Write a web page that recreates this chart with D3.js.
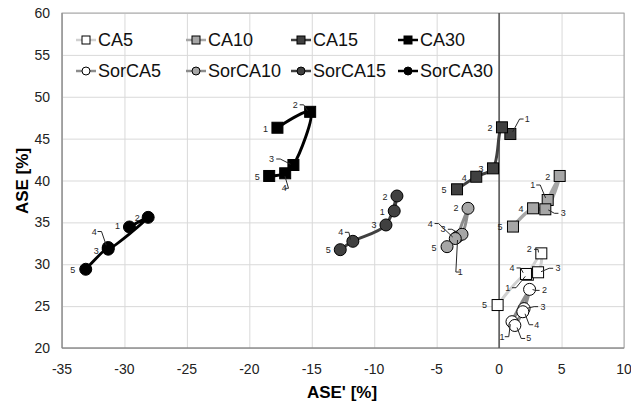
<!DOCTYPE html>
<html>
<head>
<meta charset="utf-8">
<script src="https://cdn.jsdelivr.net/npm/d3@7"></script>
<style>
  body { margin: 0; background: #fff; }
  svg { font-family: "Liberation Sans", Arial, sans-serif; }
</style>
</head>
<body>
<svg id="chart" width="631" height="406"></svg>
<script>
// series names, legend order
const seriesNames = ["CA5", "CA10", "CA15", "CA30", "SorCA5", "SorCA10", "SorCA15", "SorCA30"];
const pointLabels = ["1", "2", "3", "4", "5"];

// ASE' [%] (x) and ASE [%] (y), points 1..5
const ca5X = [2.3, 3.38, 3.12, 2.15, -0.12];
const ca5Y = [28.75, 31.3, 29.04, 28.84, 25.13];
const ca10X = [3.89, 4.85, 3.7, 2.72, 1.11];
const ca10Y = [37.67, 40.54, 36.56, 36.68, 34.5];
const ca15X = [0.9, 0.23, -0.49, -1.83, -3.37];
const ca15Y = [45.55, 46.35, 41.45, 40.45, 38.95];
const ca30X = [-17.75, -15.13, -16.47, -17.13, -18.41];
const ca30Y = [46.3, 48.2, 41.85, 40.86, 40.54];
const sorCa5X = [1.03, 2.44, 2.0, 1.9, 1.26];
const sorCa5Y = [23.14, 27.0, 24.7, 24.33, 22.69];
const sorCa10X = [-3.35, -2.49, -2.97, -3.51, -4.17];
const sorCa10Y = [33.25, 36.68, 33.58, 33.07, 32.1];
const sorCa15X = [-8.4, -8.18, -9.06, -11.71, -12.72];
const sorCa15Y = [36.36, 38.15, 34.69, 32.74, 31.74];
const sorCa30X = [-29.6, -28.1, -31.3, -31.3, -33.1];
const sorCa30Y = [34.45, 35.6, 31.8, 32.0, 29.4];

const xTicks = [-35, -30, -25, -20, -15, -10, -5, 0, 5, 10];
const yTicks = [20, 25, 30, 35, 40, 45, 50, 55, 60];

// look of each series
const styles = {
  CA5:     {shape: "square", fill: "#ffffff", line: "#d0d0d0", lw: 3},
  CA10:    {shape: "square", fill: "#a6a6a6", line: "#a6a6a6", lw: 3.5},
  CA15:    {shape: "square", fill: "#404040", line: "#404040", lw: 3},
  CA30:    {shape: "square", fill: "#000000", line: "#000000", lw: 3},
  SorCA5:  {shape: "circle", fill: "#ffffff", line: "#8c8c8c", lw: 3.5},
  SorCA10: {shape: "circle", fill: "#a6a6a6", line: "#8c8c8c", lw: 3},
  SorCA15: {shape: "circle", fill: "#404040", line: "#404040", lw: 3},
  SorCA30: {shape: "circle", fill: "#000000", line: "#000000", lw: 3}
};

// data label offsets in px [dx, dy, leader?]
const labelPos = {
  CA5:     [[-20, 13, 1], [-12, -4, 1], [20, -4, 1], [-14, -6, 1], [-13, 0, 0]],
  CA10:    [[-15, -15, 1], [-12, 1, 0], [18, 4, 1], [-12, 1, 0], [-13, 0, 0]],
  CA15:    [[17, -15, 1], [-12, 1, 0], [-12, 1, 0], [-12, 1, 0], [-13, 1, 0]],
  CA30:    [[-12, 1, 0], [-15, -7, 1], [-22, -6, 1], [-1, 15, 1], [-12, 1, 0]],
  SorCA5:  [[-10, 15, 1], [15, 1, 1], [19, -2, 1], [14, 13, 1], [14, 13, 1]],
  SorCA10: [[3, 35, 1], [-12, 0, 0], [-19, -5, 1], [-25, -15, 1], [-13, 1, 0]],
  SorCA15: [[-12, 1, 0], [-12, 1, 0], [-12, 0, 0], [-12, -9, 1], [-12, 0, 0]],
  SorCA30: [[-12, -1, 0], [-11, 1, 0], [-12, 2, 0], [-14, -16, 1], [-13, 1, 0]]
};

const xs = [ca5X, ca10X, ca15X, ca30X, sorCa5X, sorCa10X, sorCa15X, sorCa30X];
const ys = [ca5Y, ca10Y, ca15Y, ca30Y, sorCa5Y, sorCa10Y, sorCa15Y, sorCa30Y];
const series = seriesNames.map((name, i) => ({
  name: name,
  points: pointLabels.map((lab, j) => ({label: lab, x: xs[i][j], y: ys[i][j]}))
}));

const svg = d3.select("#chart");
const plotL = 62, plotR = 624, plotT = 13, plotB = 348;

const x = d3.scaleLinear().domain([-35, 10]).range([plotL, plotR]);
const y = d3.scaleLinear().domain([20, 60]).range([plotB, plotT]);

// gridlines
svg.append("g")
  .attr("transform", `translate(0,${plotB})`)
  .call(d3.axisBottom(x).tickValues(xTicks).tickSize(-(plotB - plotT)).tickFormat(""))
  .call(g => g.select(".domain").remove())
  .call(g => g.selectAll("line").attr("stroke", "#d9d9d9"));
svg.append("g")
  .attr("transform", `translate(${plotL},0)`)
  .call(d3.axisLeft(y).tickValues(yTicks).tickSize(-(plotR - plotL)).tickFormat(""))
  .call(g => g.select(".domain").remove())
  .call(g => g.selectAll("line").attr("stroke", "#d9d9d9"));

// plot border
svg.append("rect")
  .attr("x", plotL).attr("y", plotT)
  .attr("width", plotR - plotL).attr("height", plotB - plotT)
  .attr("fill", "none").attr("stroke", "#a6a6a6").attr("stroke-width", 1);
svg.append("line")
  .attr("x1", plotL).attr("x2", plotL).attr("y1", plotT).attr("y2", plotB)
  .attr("stroke", "#808080");
svg.append("line")
  .attr("x1", plotL).attr("x2", plotR).attr("y1", plotB).attr("y2", plotB)
  .attr("stroke", "#808080");

// x = 0 reference line
svg.append("line")
  .attr("x1", x(0)).attr("x2", x(0)).attr("y1", plotT).attr("y2", plotB)
  .attr("stroke", "#595959").attr("stroke-width", 1.6);

// tick labels
svg.append("g").selectAll("text")
  .data(xTicks).enter().append("text")
  .attr("x", d => x(d)).attr("y", 374)
  .attr("text-anchor", "middle")
  .attr("font-size", 14).attr("fill", "#222")
  .text(d => d);
svg.append("g").selectAll("text")
  .data(yTicks).enter().append("text")
  .attr("x", 50).attr("y", d => y(d) + 5)
  .attr("text-anchor", "end")
  .attr("font-size", 14).attr("fill", "#222")
  .text(d => d);

// axis titles
svg.append("text")
  .attr("x", 342).attr("y", 398)
  .attr("text-anchor", "middle")
  .attr("font-size", 17).attr("font-weight", "bold")
  .text("ASE' [%]");
svg.append("text")
  .attr("transform", "translate(28,181) rotate(-90)")
  .attr("text-anchor", "middle")
  .attr("font-size", 17).attr("font-weight", "bold")
  .text("ASE [%]");

function drawMarker(g, shape, cx, cy, size, fill) {
  if (shape === "square") {
    g.append("rect")
      .attr("x", cx - size / 2).attr("y", cy - size / 2)
      .attr("width", size).attr("height", size)
      .attr("fill", fill).attr("stroke", "#000").attr("stroke-width", 1);
  } else {
    g.append("circle")
      .attr("cx", cx).attr("cy", cy).attr("r", size / 2)
      .attr("fill", fill).attr("stroke", "#000").attr("stroke-width", 1);
  }
}

const lineGen = d3.line()
  .x(d => x(d.x)).y(d => y(d.y))
  .curve(d3.curveCatmullRom.alpha(0.5));

let plot = svg.append("g");

series.forEach(s => {
  let st = styles[s.name];
  let g = plot.append("g");
  g.append("path")
    .datum(s.points)
    .attr("d", lineGen)
    .attr("fill", "none")
    .attr("stroke", st.line)
    .attr("stroke-width", st.lw);
  s.points.forEach(p => {
    drawMarker(g, st.shape, x(p.x), y(p.y), st.shape === "square" ? 11 : 12, st.fill);
  });
});

// data labels with leader lines
let labG = svg.append("g");
series.forEach(s => {
  s.points.forEach((p, j) => {
    let off = labelPos[s.name][j];
    let px = x(p.x), py = y(p.y);
    let lx = px + off[0], ly = py + off[1];
    if (off[2]) {
      let dx = px - lx, dy = py - ly;
      let len = Math.sqrt(dx * dx + dy * dy);
      let ux = dx / len, uy = dy / len;
      // small hook then a straight leader to the marker
      let sx = lx + ux * 5, sy = ly + uy * 5;
      let hx = sx + (off[0] > 0 ? -4 : 4);
      labG.append("path")
        .attr("d", `M${sx},${ly}L${hx},${ly}L${px - ux * 3},${py - uy * 3}`)
        .attr("fill", "none").attr("stroke", "#262626").attr("stroke-width", 1);
    }
    labG.append("text")
      .attr("x", lx).attr("y", ly + 3)
      .attr("text-anchor", "middle")
      .attr("font-size", 9).attr("fill", "#262626")
      .text(p.label);
  });
});

// legend
const legX = [86, 196, 301, 408];
const legY = [40, 71];
let leg = svg.append("g");
seriesNames.forEach((name, i) => {
  let st = styles[name];
  let cx = legX[i % 4], cy = legY[Math.floor(i / 4)];
  leg.append("line")
    .attr("x1", cx - 10).attr("x2", cx + 10)
    .attr("y1", cy).attr("y2", cy)
    .attr("stroke", st.line).attr("stroke-width", 2.5);
  drawMarker(leg, st.shape, cx, cy, 8, st.fill);
  leg.append("text")
    .attr("x", cx + 12).attr("y", cy + 6)
    .attr("font-size", 18).attr("fill", "#111")
    .text(name);
});
</script>
</body>
</html>
